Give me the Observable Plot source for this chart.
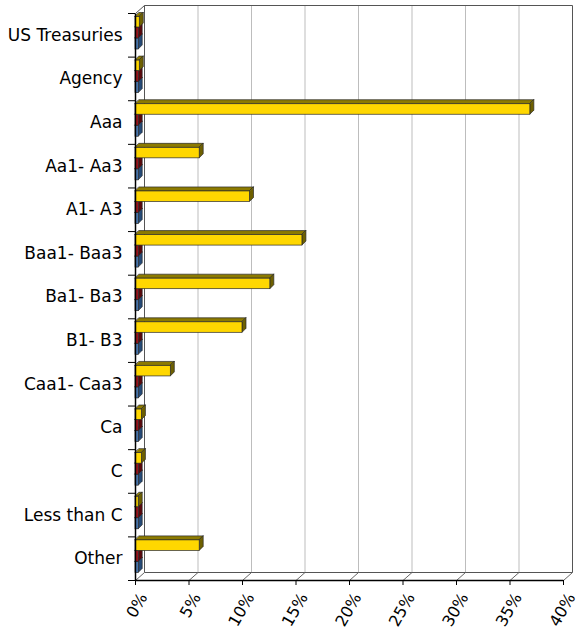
<!DOCTYPE html>
<html><head><meta charset="utf-8">
<script src="https://cdn.jsdelivr.net/npm/d3@7"></script>
<script src="https://cdn.jsdelivr.net/npm/@observablehq/plot@0.6"></script>
<style>body{margin:0;background:#fff}</style>
</head><body><div id="chart"></div>
<script>
const categories = ["US Treasuries","Agency","Aaa","Aa1- Aa3","A1- A3","Baa1- Baa3","Ba1- Ba3","B1- B3","Caa1- Caa3","Ca","C","Less than C","Other"];
const seriesYellow = [0.4, 0.4, 36.9, 6.0, 10.7, 15.6, 12.6, 10.0, 3.3, 0.6, 0.6, 0.3, 6.0];
const seriesRed    = [0.3, 0.3, 0.3, 0.3, 0.3, 0.3, 0.3, 0.3, 0.3, 0.3, 0.3, 0.3, 0.3];
const seriesBlue   = [0.3, 0.3, 0.3, 0.3, 0.3, 0.3, 0.3, 0.3, 0.3, 0.3, 0.3, 0.3, 0.3];
const xTicks = [0, 5, 10, 15, 20, 25, 30, 35, 40];
const xTickLabels = ["0%","5%","10%","15%","20%","25%","30%","35%","40%"];

const W = 578, H = 633, mL = 135, mR = 15, mT = 13, mB = 53;
const xMax = 40, n = categories.length;
const pxX = (W - mL - mR) / xMax, pxY = (H - mT - mB) / n;
const wallDX = 9 / pxX, wallDY = 8 / pxY;
const barDX = 4 / pxX, barDY = 4 / pxY;

const series = [
  {values: seriesBlue,   top: 25,  bot: 36, front: "#4f81bd", topc: "#2f5b8f", side: "#244a78"},
  {values: seriesRed,    top: 14,  bot: 25, front: "#a8141c", topc: "#6e0a0f", side: "#5a080c"},
  {values: seriesYellow, top: 3.5, bot: 14, front: "#ffd700", topc: "#8c7a00", side: "#6e6000"}
];

function barMarks(s) {
  const rows = s.values.map((v, i) => ({id: i, v, y0: i + s.top / pxY, y1: i + s.bot / pxY}));
  const topFace = rows.flatMap(r => [
    {id: r.id, ax1: 0, ay1: r.y0, ax2: barDX, ay2: r.y0 - barDY},
    {id: r.id, ax1: r.v, ay1: r.y0, ax2: r.v + barDX, ay2: r.y0 - barDY}
  ]);
  const sideFace = rows.flatMap(r => [
    {id: r.id, ax1: r.v, ay1: r.y0, ax2: r.v + barDX, ay2: r.y0 - barDY},
    {id: r.id, ax1: r.v, ay1: r.y1, ax2: r.v + barDX, ay2: r.y1 - barDY}
  ]);
  const st = {stroke: "#2a2a2a", strokeWidth: 0.7};
  return [
    Plot.area(topFace, {x1: "ax1", y1: "ay1", x2: "ax2", y2: "ay2", z: "id", fill: s.topc, ...st}),
    Plot.area(sideFace, {x1: "ax1", y1: "ay1", x2: "ax2", y2: "ay2", z: "id", fill: s.side, ...st}),
    Plot.rect(rows, {x1: 0, x2: "v", y1: "y0", y2: "y1", fill: s.front, ...st})
  ];
}

const gridSegs = xTicks.slice(1, -1).map(v => ({x1: v + wallDX, y1: -wallDY, x2: v + wallDX, y2: n - wallDY}));
const backFrame = [
  {x1: wallDX, y1: -wallDY, x2: xMax + wallDX, y2: -wallDY},
  {x1: xMax + wallDX, y1: -wallDY, x2: xMax + wallDX, y2: n - wallDY},
  {x1: wallDX, y1: -wallDY, x2: wallDX, y2: n - wallDY},
  {x1: wallDX, y1: n - wallDY, x2: xMax + wallDX, y2: n - wallDY},
  {x1: 0, y1: 0, x2: wallDX, y2: -wallDY}
];
const floorDiag = xTicks.map(v => ({x1: v, y1: n, x2: v + wallDX, y2: n - wallDY}));
const frontLines = [
  {x1: 0, y1: 0, x2: 0, y2: n},
  {x1: 0, y1: n, x2: xMax, y2: n}
];

const chart = Plot.plot({
  width: W, height: H,
  marginLeft: mL, marginRight: mR, marginTop: mT, marginBottom: mB,
  x: {domain: [0, xMax], axis: null},
  y: {domain: [0, n], reverse: true, axis: null},
  style: {fontFamily: "DejaVu Sans, sans-serif", background: "#fff", color: "#000"},
  marks: [
    Plot.link(gridSegs, {x1: "x1", y1: "y1", x2: "x2", y2: "y2", stroke: "#bdbdbd", strokeWidth: 1}),
    Plot.link(backFrame, {x1: "x1", y1: "y1", x2: "x2", y2: "y2", stroke: "#555", strokeWidth: 1}),
    Plot.link(floorDiag, {x1: "x1", y1: "y1", x2: "x2", y2: "y2", stroke: "#666", strokeWidth: 1}),
    ...series.flatMap(barMarks),
    Plot.link(frontLines, {x1: "x1", y1: "y1", x2: "x2", y2: "y2", stroke: "#000", strokeWidth: 1.5}),
    Plot.axisY(d3.range(n + 1), {tickSize: 7, tickFormat: () => "", label: null, stroke: "#000"}),
    Plot.axisX(xTicks, {tickSize: 5, tickFormat: () => "", label: null, stroke: "#000"}),
    Plot.text(categories, {frameAnchor: "left", y: (d, i) => i + 0.5, text: d => d, textAnchor: "end", dx: -13, fontSize: 17, fill: "#000"}),
    Plot.text(xTicks, {x: d => d, y: () => n, text: (d, i) => xTickLabels[i], rotate: -60, textAnchor: "end", dx: 8, dy: 14, fontSize: 16, fill: "#000"})
  ]
});
document.getElementById("chart").appendChild(chart);
</script>
</body></html>
